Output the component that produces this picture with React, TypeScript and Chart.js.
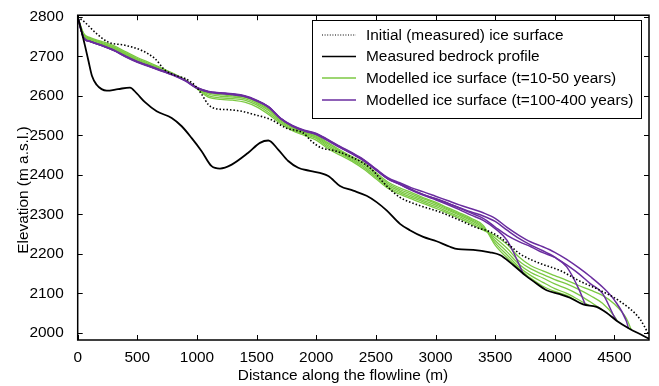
import React, { useEffect, useRef } from "react";
import { Chart, registerables } from "chart.js";

Chart.register(...registerables);

// ---- axis ticks ----
const xTicks = [0, 500, 1000, 1500, 2000, 2500, 3000, 3500, 4000, 4500];
const yTicks = [2000, 2100, 2200, 2300, 2400, 2500, 2600, 2700, 2800];

// ---- initial (measured) ice surface ----
const initX = [0, 61, 145, 256, 396, 536, 648, 732, 816, 900, 984, 1039, 1095, 1151, 1262, 1375, 1486, 1612, 1752, 1891, 1961, 2045, 2143, 2282, 2450, 2590, 2702, 2870, 3037, 3205, 3330, 3456, 3540, 3624, 3708, 3875, 4043, 4210, 4378, 4546, 4714, 4790];
const initY = [2800, 2786, 2761, 2736, 2728, 2715, 2694, 2665, 2652, 2644, 2626, 2604, 2578, 2568, 2565, 2561, 2552, 2541, 2518, 2506, 2485, 2468, 2462, 2447, 2418, 2372, 2343, 2322, 2306, 2285, 2268, 2256, 2242, 2221, 2200, 2176, 2158, 2131, 2108, 2080, 2035, 1995];

// ---- measured bedrock profile ----
const bedX = [0, 33, 61, 89, 120, 159, 200, 243, 338, 438, 495, 564, 662, 788, 872, 956, 1039, 1123, 1193, 1291, 1430, 1528, 1598, 1681, 1765, 1849, 1947, 2101, 2199, 2310, 2422, 2506, 2590, 2702, 2785, 2897, 3009, 3121, 3190, 3316, 3456, 3540, 3651, 3764, 3819, 3931, 4043, 4127, 4238, 4350, 4434, 4518, 4630, 4714, 4790];
const bedY = [2800, 2762, 2727, 2690, 2650, 2628, 2617, 2613, 2617, 2621, 2606, 2584, 2561, 2544, 2523, 2493, 2460, 2422, 2416, 2426, 2456, 2481, 2487, 2464, 2435, 2418, 2410, 2397, 2372, 2360, 2347, 2331, 2310, 2276, 2260, 2243, 2232, 2218, 2212, 2210, 2204, 2197, 2172, 2143, 2131, 2108, 2098, 2089, 2072, 2066, 2051, 2031, 2010, 1997, 1985];

// ---- modelled surfaces on a common distance grid ----
const modelX = [0, 50, 100, 200, 300, 400, 500, 600, 700, 800, 900, 1000, 1100, 1200, 1300, 1400, 1500, 1600, 1700, 1800, 1900, 2000, 2100, 2200, 2300, 2400, 2500, 2600, 2700, 2800, 2900, 3000, 3100, 3200, 3300, 3400, 3500, 3600, 3700, 3800, 3900, 4000, 4100, 4200, 4300, 4400, 4500, 4600];

const g10 = [2800, 2758, 2748, 2738, 2727, 2712, 2697, 2684, 2671, 2657, 2641, 2618, 2596, 2591, 2589, 2584, 2572, 2553, 2530, 2512, 2500, 2488, 2466, 2450, 2434, 2414, 2390, 2366, 2351, 2339, 2327, 2316, 2303, 2290, 2276, 2260, 2246, 2224, 2192, 2170, 2157, 2145, 2133, 2120, 2108, 2095, 2073, 2037];
const g20 = [2800, 2756, 2746, 2735, 2724, 2709, 2694, 2681, 2669, 2656, 2641, 2619, 2600, 2595, 2593, 2589, 2577, 2558, 2534, 2515, 2503, 2492, 2470, 2454, 2437, 2418, 2394, 2370, 2355, 2343, 2331, 2320, 2307, 2294, 2280, 2263, 2240, 2214, 2182, 2162, 2148, 2135, 2124, 2110, 2094, 2075, 2042, null];
const g30 = [2800, 2754, 2744, 2733, 2722, 2707, 2692, 2679, 2667, 2655, 2640, 2620, 2604, 2599, 2597, 2593, 2581, 2563, 2537, 2518, 2506, 2495, 2474, 2457, 2440, 2422, 2398, 2374, 2359, 2347, 2335, 2324, 2311, 2298, 2284, 2266, 2234, 2205, 2174, 2153, 2139, 2124, 2112, 2097, 2078, null, null, null];
const g40 = [2800, 2752, 2742, 2731, 2720, 2705, 2690, 2677, 2666, 2654, 2640, 2620, 2607, 2603, 2600, 2596, 2584, 2566, 2540, 2520, 2508, 2497, 2478, 2460, 2443, 2426, 2402, 2378, 2363, 2351, 2339, 2328, 2314, 2301, 2287, 2269, 2228, 2197, 2167, 2145, 2128, 2112, 2100, 2084, null, null, null, null];
const g50 = [2800, 2750, 2740, 2729, 2718, 2703, 2688, 2676, 2665, 2654, 2640, 2621, 2610, 2606, 2603, 2598, 2587, 2569, 2542, 2522, 2510, 2500, 2481, 2463, 2446, 2430, 2406, 2382, 2367, 2355, 2342, 2331, 2317, 2304, 2290, 2272, 2222, 2190, 2163, 2138, 2118, 2105, 2095, null, null, null, null, null];
const greenEndX = [4640, 4525, 4390, 4290, 4180];
const greenEndY = [2009, 2030, 2060, 2069, 2082];

const p100 = [2800, 2747, 2738, 2727, 2715, 2699, 2685, 2674, 2663, 2652, 2638, 2619, 2609, 2606, 2603, 2598, 2587, 2571, 2542, 2523, 2511, 2502, 2486, 2469, 2453, 2435, 2412, 2390, 2376, 2361, 2348, 2337, 2325, 2312, 2298, 2285, 2264, 2234, 2174, null, null, null, null, null, null, null, null, null];
const p200 = [2800, 2747, 2738, 2727, 2715, 2700, 2686, 2675, 2664, 2653, 2639, 2620, 2610, 2607, 2604, 2599, 2588, 2572, 2543, 2524, 2512, 2503, 2487, 2470, 2454, 2436, 2413, 2391, 2377, 2363, 2350, 2340, 2329, 2316, 2303, 2290, 2268, 2247, 2231, 2218, 2203, 2191, 2167, 2112, null, null, null, null];
const p300 = [2800, 2747, 2738, 2728, 2716, 2700, 2686, 2675, 2664, 2653, 2639, 2620, 2610, 2607, 2604, 2599, 2588, 2572, 2543, 2524, 2512, 2504, 2488, 2471, 2455, 2437, 2414, 2390, 2376, 2362, 2350, 2339, 2328, 2317, 2306, 2296, 2282, 2260, 2239, 2222, 2208, 2192, 2172, 2150, 2124, 2100, 2040, null];
const p400 = [2800, 2747, 2738, 2728, 2716, 2701, 2687, 2676, 2665, 2654, 2640, 2621, 2611, 2608, 2605, 2600, 2589, 2573, 2544, 2525, 2513, 2505, 2489, 2472, 2456, 2438, 2415, 2393, 2380, 2367, 2357, 2346, 2335, 2324, 2314, 2304, 2290, 2267, 2247, 2230, 2218, 2204, 2186, 2165, 2142, 2116, 2083, 2030];
const purpleEndX = [3736, 4255, 4518, 4618];
const purpleEndY = [2149, 2072, 2031, 2011];

const legendLabels = [
  "Initial (measured) ice surface",
  "Measured bedrock profile",
  "Modelled ice surface (t=10-50 years)",
  "Modelled ice surface (t=100-400 years)",
];
const xTitle = "Distance along the flowline (m)";
const yTitle = "Elevation (m a.s.l.)";

const GREEN = "#7cc943";
const PURPLE = "#6a2d9f";
const FONT = "'Liberation Sans', Arial, Helvetica, sans-serif";
const FS = 15.4;

function zip(xs: number[], ys: number[]) {
  return xs.map((x, i) => ({ x, y: ys[i] }));
}
function modelPoints(vals: (number | null)[], endX: number, endY: number) {
  const pts: { x: number; y: number }[] = [];
  vals.forEach((v, i) => {
    if (v !== null) pts.push({ x: modelX[i], y: v });
  });
  pts.push({ x: endX, y: endY });
  return pts;
}

const frameLegendPlugin = {
  id: "frameLegend",
  afterDraw(chart: any) {
    const { ctx, chartArea } = chart;
    const { left, right, top, bottom } = chartArea;
    const xs = chart.scales.x;
    const ys = chart.scales.y;
    ctx.save();
    ctx.strokeStyle = "#000";
    ctx.lineWidth = 1.5;
    ctx.strokeRect(left, top, right - left, bottom - top);
    ctx.lineWidth = 1;
    const L = 5;
    ctx.beginPath();
    xTicks.forEach((v) => {
      const px = Math.round(xs.getPixelForValue(v)) + 0.5;
      ctx.moveTo(px, bottom);
      ctx.lineTo(px, bottom - L);
      ctx.moveTo(px, top);
      ctx.lineTo(px, top + L);
    });
    yTicks.forEach((v) => {
      const py = Math.round(ys.getPixelForValue(v)) + 0.5;
      ctx.moveTo(left, py);
      ctx.lineTo(left + L, py);
      ctx.moveTo(right, py);
      ctx.lineTo(right - L, py);
    });
    ctx.stroke();

    // axis titles
    ctx.fillStyle = "#000";
    ctx.font = `${FS}px ${FONT}`;
    ctx.textAlign = "center";
    ctx.textBaseline = "middle";
    ctx.fillText(xTitle, 343, 376);
    ctx.save();
    ctx.translate(24, 190);
    ctx.rotate(-Math.PI / 2);
    ctx.fillText(yTitle, 0, 0);
    ctx.restore();

    // legend box
    const bx = 312.5, by = 20.5, bw = 329, bh = 98;
    ctx.fillStyle = "#fff";
    ctx.fillRect(bx, by, bw, bh);
    ctx.lineWidth = 1;
    ctx.strokeStyle = "#000";
    ctx.strokeRect(bx, by, bw, bh);
    const rows = [35, 56.5, 78, 100];
    const styles = [
      { color: "#000", width: 1.2, dash: [1, 1.6] },
      { color: "#000", width: 1.5, dash: [] },
      { color: GREEN, width: 1.3, dash: [] },
      { color: PURPLE, width: 1.3, dash: [] },
    ];
    ctx.font = `${FS}px ${FONT}`;
    ctx.textBaseline = "middle";
    ctx.textAlign = "left";
    legendLabels.forEach((lab, i) => {
      const s = styles[i];
      ctx.beginPath();
      ctx.setLineDash(s.dash);
      ctx.strokeStyle = s.color;
      ctx.lineWidth = s.width;
      ctx.moveTo(322, rows[i]);
      ctx.lineTo(356, rows[i]);
      ctx.stroke();
      ctx.setLineDash([]);
      ctx.fillStyle = "#000";
      ctx.fillText(lab, 366, rows[i] + 0.5);
    });
    ctx.restore();
  },
};

export default function App() {
  const ref = useRef<HTMLCanvasElement>(null);
  useEffect(() => {
    document.body.style.margin = "0";
    const greens = [g10, g20, g30, g40, g50];
    const purples = [p100, p200, p300, p400];
    const line = (data: any, color: string, width: number, extra: any = {}) => ({
      data,
      borderColor: color,
      backgroundColor: color,
      borderWidth: width,
      pointRadius: 0,
      fill: false,
      cubicInterpolationMode: "monotone",
      ...extra,
    });
    const datasets: any[] = [
      line(zip(initX, initY), "#000", 1.6, { borderDash: [1.5, 2], label: legendLabels[0] }),
      line(zip(bedX, bedY), "#000", 1.8, { label: legendLabels[1] }),
      ...purples.map((p, i) => line(modelPoints(p, purpleEndX[i], purpleEndY[i]), PURPLE, 1.5, { label: legendLabels[3] })),
      ...greens.map((g, i) => line(modelPoints(g, greenEndX[i], greenEndY[i]), GREEN, 1.3, { label: legendLabels[2] })),
    ];
    const tickFont = { family: FONT, size: FS };
    const fmt = (v: any) => String(v);
    const chart = new Chart(ref.current as HTMLCanvasElement, {
      type: "line",
      data: { datasets },
      plugins: [frameLegendPlugin],
      options: {
        responsive: false,
        animation: false,
        devicePixelRatio: 1,
        layout: { padding: { left: 0, top: 10, right: 10, bottom: 0 } },
        plugins: { legend: { display: false }, tooltip: { enabled: false } },
        scales: {
          x: {
            type: "linear",
            min: 0,
            max: 4790,
            afterBuildTicks: (s: any) => {
              s.ticks = xTicks.map((v) => ({ value: v }));
            },
            afterFit: (s: any) => {
              s.height = 46;
            },
            grid: { display: false },
            border: { display: false },
            ticks: { font: tickFont, color: "#000", padding: 1, maxRotation: 0, autoSkip: false, callback: fmt },
            title: { display: false },
          },
          y: {
            type: "linear",
            min: 1982,
            max: 2804,
            afterBuildTicks: (s: any) => {
              s.ticks = yTicks.map((v) => ({ value: v }));
            },
            afterFit: (s: any) => {
              s.width = 77.7;
            },
            grid: { display: false },
            border: { display: false },
            ticks: { font: tickFont, color: "#000", padding: 6, autoSkip: false, callback: fmt },
            title: { display: false },
          },
        },
      } as any,
    });
    return () => chart.destroy();
  }, []);
  return (
    <div style={{ width: 659, height: 386 }}>
      <canvas ref={ref} width={659} height={386} style={{ display: "block" }} />
    </div>
  );
}
